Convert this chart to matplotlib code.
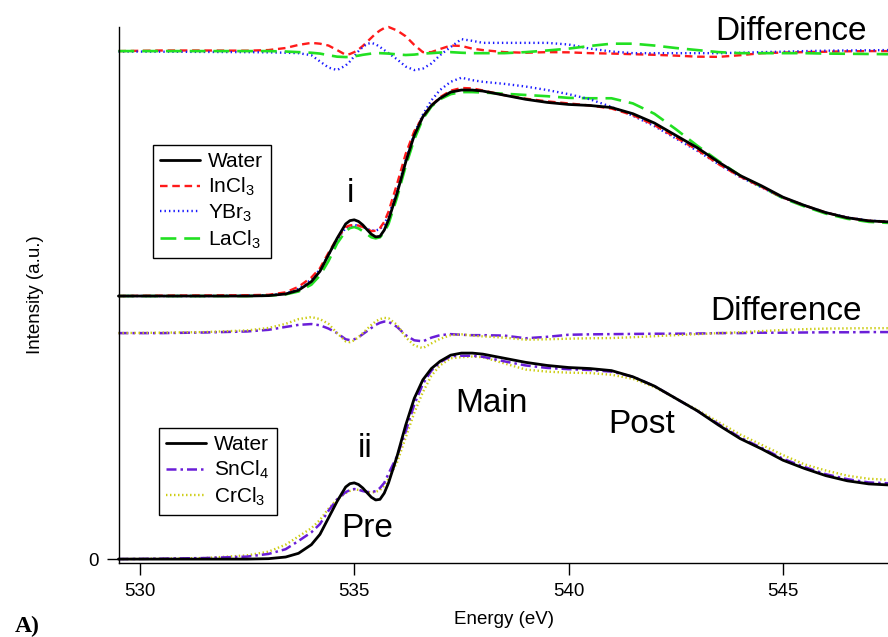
import numpy as np
import matplotlib
matplotlib.use("Agg")
import matplotlib.pyplot as plt

plt.rcParams["font.family"] = ["Liberation Sans"]
plt.rcParams["mathtext.default"] = "regular"

# photon energy grid (eV)
energy = [529.5, 530.5, 531.5, 532.5, 533.0, 533.4, 533.7, 534.0, 534.2, 534.4,
          534.6, 534.8, 534.9, 535.0, 535.1, 535.2, 535.3, 535.4, 535.5, 535.6,
          535.7, 535.8, 536.0, 536.2, 536.4,
          536.6, 536.8, 537.0, 537.25, 537.5, 537.75, 538.0, 538.5, 539.0, 539.5,
          540.0, 540.5, 541.0, 541.5, 542.0, 542.5, 543.0, 543.5, 544.0, 544.5,
          545.0, 545.5, 546.0, 546.5, 547.0, 547.45]

water = [0.0, 0.0, 0.0, 0.0, 0.002, 0.01, 0.028, 0.07, 0.12, 0.20,
         0.28, 0.35, 0.366, 0.37, 0.362, 0.345, 0.322, 0.30, 0.287, 0.29,
         0.32, 0.37, 0.50, 0.65, 0.78,
         0.87, 0.925, 0.96, 0.99, 1.0, 1.0, 0.995, 0.975, 0.955, 0.94,
         0.93, 0.925, 0.915, 0.885, 0.84, 0.78, 0.72, 0.65, 0.585, 0.535,
         0.48, 0.44, 0.405, 0.38, 0.365, 0.36]

# upper panel samples
incl3 = [0.0, 0.002, 0.003, 0.004, 0.006, 0.018, 0.045, 0.09, 0.135, 0.21,
         0.28, 0.335, 0.343, 0.345, 0.342, 0.335, 0.325, 0.315, 0.317, 0.33,
         0.36, 0.41, 0.545, 0.69, 0.80,
         0.87, 0.925, 0.965, 0.997, 1.01, 1.008, 0.998, 0.975, 0.958, 0.945,
         0.935, 0.925, 0.91, 0.878, 0.83, 0.77, 0.71, 0.64, 0.58, 0.53,
         0.478, 0.44, 0.405, 0.38, 0.365, 0.36]
ybr3 = [0.0, 0.0, 0.0, 0.002, 0.004, 0.012, 0.035, 0.08, 0.13, 0.20,
        0.275, 0.33, 0.341, 0.345, 0.342, 0.335, 0.326, 0.318, 0.318, 0.325,
        0.35, 0.39, 0.51, 0.66, 0.79,
        0.88, 0.95, 1.0, 1.04, 1.06, 1.048, 1.04, 1.03, 1.017, 1.0,
        0.98, 0.955, 0.918, 0.875, 0.825, 0.765, 0.705, 0.64, 0.578, 0.528,
        0.477, 0.44, 0.405, 0.382, 0.366, 0.362]
lacl3 = [0.0, 0.0, 0.0, 0.0, 0.002, 0.008, 0.022, 0.055, 0.10, 0.17,
         0.255, 0.315, 0.330, 0.335, 0.328, 0.315, 0.30, 0.285, 0.28, 0.285,
         0.31, 0.35, 0.48, 0.63, 0.76,
         0.86, 0.92, 0.955, 0.98, 0.99, 0.99, 0.988, 0.982, 0.976, 0.97,
         0.962, 0.96, 0.96, 0.935, 0.885, 0.81, 0.73, 0.655, 0.585, 0.53,
         0.475, 0.435, 0.40, 0.375, 0.36, 0.355]

diff_incl3 = [0.0, 0.003, 0.003, 0.002, 0.005, 0.015, 0.03, 0.04, 0.036, 0.027,
              0.005, -0.018, -0.014, -0.005, 0.008, 0.025, 0.045, 0.065, 0.085, 0.10,
              0.112, 0.117, 0.10, 0.072, 0.03,
              -0.005, -0.005, 0.01, 0.027, 0.025, 0.012, 0.005, -0.005, -0.008, -0.005,
              -0.006, -0.01, -0.012, -0.015, -0.018, -0.022, -0.027, -0.028, -0.02, -0.01,
              -0.007, -0.005, -0.003, -0.001, 0.0, 0.0]
diff_ybr3 = [-0.002, -0.003, -0.004, -0.005, -0.006, -0.008, -0.01, -0.02, -0.05, -0.08,
             -0.092, -0.07, -0.05, -0.025, 0.0, 0.02, 0.035, 0.04, 0.033, 0.02,
             0.005, -0.01, -0.04, -0.075, -0.092,
             -0.085, -0.06, -0.02, 0.02, 0.058, 0.05, 0.04, 0.04, 0.04, 0.04,
             0.032, 0.012, -0.002, -0.01, -0.01, -0.01, -0.01, -0.01, -0.008, -0.005,
             -0.003, 0.0, 0.002, 0.003, 0.004, 0.005]
diff_lacl3 = [0.0, 0.0, 0.0, 0.0, 0.0, -0.002, -0.005, -0.008, -0.012, -0.02,
              -0.027, -0.029, -0.028, -0.025, -0.022, -0.018, -0.015, -0.012, -0.01, -0.01,
              -0.011, -0.012, -0.016, -0.019, -0.017,
              -0.012, -0.01, -0.007, -0.005, -0.008, -0.01, -0.01, -0.01, -0.005, 0.003,
              0.012, 0.025, 0.036, 0.036, 0.027, 0.015, 0.005, -0.005, -0.01, -0.01,
              -0.01, -0.01, -0.012, -0.013, -0.014, -0.015]

# lower panel samples
sncl4 = [0.0, 0.002, 0.005, 0.012, 0.025, 0.048, 0.088, 0.13, 0.17, 0.235,
         0.29, 0.325, 0.335, 0.34, 0.337, 0.33, 0.326, 0.325, 0.33, 0.345,
         0.37, 0.415, 0.50, 0.62, 0.75,
         0.85, 0.915, 0.955, 0.985, 0.987, 0.987, 0.982, 0.96, 0.94, 0.928,
         0.922, 0.918, 0.91, 0.885, 0.84, 0.78, 0.72, 0.655, 0.59, 0.54,
         0.487, 0.447, 0.412, 0.388, 0.372, 0.368]
crcl3 = [0.0, 0.002, 0.005, 0.018, 0.036, 0.07, 0.11, 0.15, 0.19, 0.245,
         0.29, 0.32, 0.331, 0.338, 0.336, 0.33, 0.326, 0.323, 0.326, 0.335,
         0.355, 0.39, 0.47, 0.59, 0.71,
         0.81, 0.89, 0.94, 0.975, 0.98, 0.983, 0.98, 0.95, 0.92, 0.91,
         0.905, 0.903, 0.895, 0.875, 0.835, 0.78, 0.725, 0.665, 0.605, 0.555,
         0.505, 0.46, 0.43, 0.405, 0.39, 0.385]

diff_sncl4 = [0.0, 0.0, 0.003, 0.008, 0.016, 0.03, 0.04, 0.044, 0.038, 0.022,
              0.0, -0.03, -0.034, -0.03, -0.02, -0.005, 0.01, 0.025, 0.04, 0.05,
              0.056, 0.055, 0.03, -0.01, -0.035,
              -0.04, -0.022, -0.01, -0.005, -0.008, -0.01, -0.01, -0.012, -0.025, -0.018,
              -0.008, -0.006, -0.005, -0.004, -0.003, -0.003, -0.002, 0.0, 0.0, 0.002,
              0.002, 0.003, 0.004, 0.004, 0.005, 0.005]
diff_crcl3 = [0.0, 0.002, 0.005, 0.013, 0.025, 0.045, 0.068, 0.078, 0.068, 0.045,
              0.0, -0.04, -0.044, -0.035, -0.02, 0.0, 0.02, 0.04, 0.057, 0.068,
              0.074, 0.072, 0.04, -0.02, -0.06,
              -0.073, -0.05, -0.028, -0.01, -0.006, -0.012, -0.016, -0.022, -0.032, -0.03,
              -0.027, -0.025, -0.024, -0.02, -0.015, -0.01, -0.005, 0.0, 0.004, 0.01,
              0.015, 0.019, 0.022, 0.023, 0.024, 0.024]

# vertical offsets of the stacked traces
OFF_LOWER = 0.0
OFF_LOWER_DIFF = 1.097
OFF_UPPER = 1.277
OFF_UPPER_DIFF = 2.466

E = np.array(energy)

RED = "#ff1a1a"
BLUE = "#1a1aff"
GREEN = "#22e022"
PURPLE = "#6a1ed8"
YELLOW = "#cccc10"

st_red = dict(color=RED, lw=1.7, ls=(0, (3.2, 2.0)))
st_blue = dict(color=BLUE, lw=1.7, ls=(0, (0.6, 1.3)))
st_green = dict(color=GREEN, lw=1.9, ls=(0, (6.0, 3.0)))
st_purple = dict(color=PURPLE, lw=1.8, ls=(0, (4.0, 1.6, 1.0, 1.6)))
st_yellow = dict(color=YELLOW, lw=1.7, ls=(0, (0.6, 1.1)))
st_water = dict(color="black", lw=2.0, ls="-")

fig = plt.figure(figsize=(8.88, 6.37), dpi=100)
ax = fig.add_axes([119.3 / 888, 74 / 637, 1 - 119.3 / 888, 536 / 637])

kw = dict(clip_on=False, solid_capstyle="round", solid_joinstyle="round")
# upper difference
ax.plot(E, np.array(diff_incl3) + OFF_UPPER_DIFF, **st_red, **kw)
ax.plot(E, np.array(diff_ybr3) + OFF_UPPER_DIFF, **st_blue, **kw)
ax.plot(E, np.array(diff_lacl3) + OFF_UPPER_DIFF, **st_green, **kw)
# upper spectra
h_lacl3, = ax.plot(E, np.array(lacl3) + OFF_UPPER, **st_green, **kw)
h_ybr3, = ax.plot(E, np.array(ybr3) + OFF_UPPER, **st_blue, **kw)
h_incl3, = ax.plot(E, np.array(incl3) + OFF_UPPER, **st_red, **kw)
h_water, = ax.plot(E, np.array(water) + OFF_UPPER, **st_water, **kw)
# lower difference
ax.plot(E, np.array(diff_sncl4) + OFF_LOWER_DIFF, **st_purple, **kw)
ax.plot(E, np.array(diff_crcl3) + OFF_LOWER_DIFF, **st_yellow, **kw)
# lower spectra
h_cr, = ax.plot(E, np.array(crcl3) + OFF_LOWER, **st_yellow, **kw)
h_sn, = ax.plot(E, np.array(sncl4) + OFF_LOWER, **st_purple, **kw)
h_water2, = ax.plot(E, np.array(water) + OFF_LOWER, **st_water, **kw)

ax.set_xlim(529.52, 547.45)
ax.set_ylim(-0.019, 2.583)
ax.spines["top"].set_visible(False)
ax.spines["right"].set_visible(False)
for s in ("left", "bottom"):
    ax.spines[s].set_linewidth(1.0)
ax.set_xticks([530, 535, 540, 545])
ax.set_yticks([0])
ax.tick_params(direction="out", length=8.5, width=1.0, labelsize=13.5, pad=6)

ax.set_xlabel("Energy (eV)", fontsize=13.5, labelpad=8)
ax.set_ylabel("Intensity (a.u.)", fontsize=13.5, labelpad=32)

big = dict(fontsize=24, va="baseline")
ax.text(543.41, 2.519, "Difference", ha="left", **big)
ax.text(543.30, 1.160, "Difference", ha="left", **big)
ax.text(534.90, 1.733, "i", ha="center", **big)
ax.text(535.25, 0.495, "ii", ha="center", **big)
ax.text(534.69, 0.107, "Pre", ha="left", **big)
ax.text(537.35, 0.714, "Main", ha="left", **big)
ax.text(540.92, 0.612, "Post", ha="left", **big)

leg_kw = dict(loc="upper left", bbox_transform=fig.transFigure, borderaxespad=0,
              fontsize=15, frameon=True, fancybox=False, framealpha=1,
              edgecolor="black", handlelength=1.9, handletextpad=0.4,
              labelspacing=0.22, borderpad=0.35)
leg1 = ax.legend([h_water, h_incl3, h_ybr3, h_lacl3],
                 ["Water", "InCl$_3$", "YBr$_3$", "LaCl$_3$"],
                 bbox_to_anchor=(153 / 888, 1 - 145 / 637), **leg_kw)
leg1.get_frame().set_linewidth(1.0)
ax.add_artist(leg1)
leg2 = ax.legend([h_water2, h_sn, h_cr],
                 ["Water", "SnCl$_4$", "CrCl$_3$"],
                 bbox_to_anchor=(159 / 888, 1 - 428 / 637), **leg_kw)
leg2.get_frame().set_linewidth(1.0)

fig.text(15 / 888, 1 - 632 / 637, "A)", fontsize=17, fontweight="bold",
         family="Liberation Serif", ha="left", va="baseline")

fig.savefig("out.png", dpi=100)
